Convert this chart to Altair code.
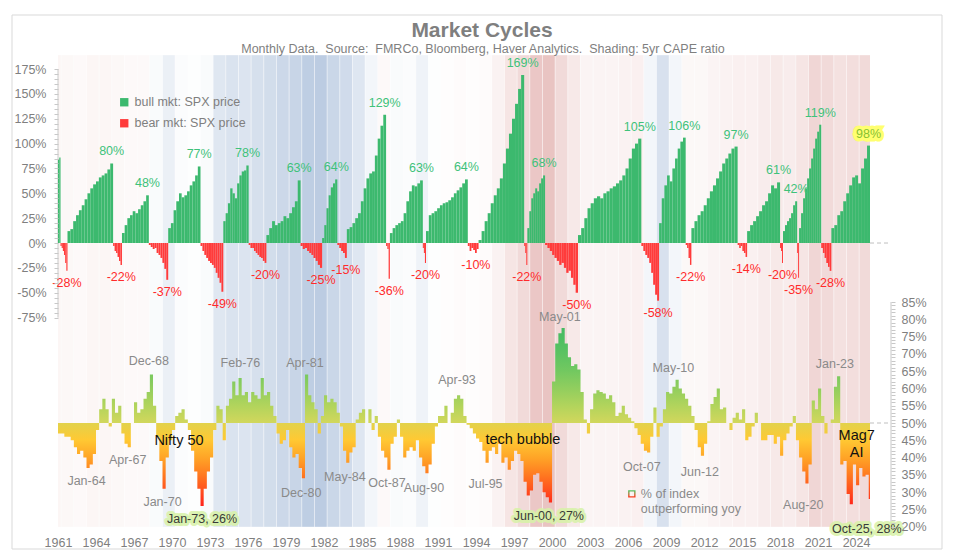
import altair as alt
import pandas as pd

# ------------------------------------------------------------------ data
FONT = "Liberation Sans"
GREY = "#7f7f7f"
ANN_GREY = "#8a8a8a"
BULL = "#3cb96e"
BEAR = "#ff3b3b"
BULL_TXT = "#3ec27a"
BEAR_TXT = "#ff2b2b"
BULL_NAME = "bull mkt: SPX price"
BEAR_NAME = "bear mkt: SPX price"

W, H = 812, 472
X_DOMAIN = [1961.75, 2025.85]
TOP_DOMAIN = [-285.6, 189.1]
BOT_DOMAIN = [19.92, 156.45]

x_tick_years = [1961.75 + 3 * i for i in range(22)]

# 5yr CAPE shading, one value per calendar year (negative = cheap/blue, positive = rich/red)
cape_years = list(range(1961, 2026))
cape_shade = [0.25, 0.2, 0.15, 0.25, 0.25, 0.2, 0.15, 0.15, -0.15, -0.5,
              -0.1, -0.05, -0.15, -0.8, -0.95, -0.9, -1.05, -1.15, -1.3, -1.4,
              -1.65, -1.7, -1.35, -1.2, -0.85, -0.3, 0.15, -0.15, -0.1, -0.4,
              -0.05, 0.05, 0.1, 0.05, 0.1, 0.35, 0.7, 1.0, 1.5, 1.6,
              1.0, 0.6, 0.3, 0.3, 0.3, 0.35, 0.4, -0.3, -1.0, -0.3,
              0.2, 0.2, 0.3, 0.35, 0.4, 0.4, 0.5, 0.6, 0.5, 0.7,
              1.1, 1.0, 0.8, 0.9, 1.0]

# bull / bear phases: boundaries (decimal years) and cumulative SPX price change within each phase
phase_edges = [1961.75, 1961.95, 1962.5, 1966.1, 1966.8, 1968.92, 1970.45, 1973.0, 1974.8,
               1976.8, 1978.2, 1980.9, 1982.6, 1983.8, 1984.55, 1987.65, 1987.95, 1990.55,
               1990.8, 1994.1, 1994.95, 1998.55, 1998.8, 2000.2, 2002.8, 2007.8, 2009.2,
               2011.3, 2011.75, 2015.4, 2016.15, 2018.75, 2018.98, 2020.1, 2020.25, 2022.0,
               2022.8, 2025.85]
phase_values = [
    [84, 86],
    [-3, -5, -8, -12, -20, -28],
    [12, 14, 22, 28, 33, 38, 44, 50, 55, 59, 62, 66, 68, 70, 74, 80],
    [-3, -8, -10, -14, -18, -22],
    [10, 18, 25, 28, 32, 30, 34, 38, 42, 48],
    [-2, -4, -6, -5, -10, -12, -15, -20, -26, -37],
    [15, 20, 33, 42, 50, 46, 48, 52, 58, 62, 68, 77],
    [-3, -8, -12, -15, -18, -20, -22, -25, -30, -35, -40, -49],
    [22, 30, 40, 55, 50, 45, 60, 68, 72, 73, 78],
    [-2, -5, -5, -8, -10, -12, -14, -15, -18, -20],
    [8, 15, 22, 18, 20, 22, 27, 25, 30, 36, 42, 63],
    [-3, -6, -5, -8, -10, -12, -15, -18, -22, -25],
    [5, 18, 35, 48, 56, 60, 64],
    [-2, -5, -8, -10, -15],
    [14, 16, 20, 25, 30, 42, 55, 65, 70, 72, 88, 105, 118, 129],
    [-3, -6, -36],
    [10, 15, 18, 20, 22, 30, 42, 52, 58, 57, 60, 63],
    [-5, -10, -20],
    [12, 28, 30, 32, 35, 38, 40, 41, 43, 46, 50, 53, 56, 60, 64],
    [-3, -8, -5, -7, -10, -6],
    [3, 12, 22, 30, 40, 48, 55, 65, 80, 95, 110, 125, 140, 155, 169],
    [-3, -10, -22],
    [15, 32, 45, 50, 55, 52, 60, 65, 68],
    [-2, -5, -8, -12, -15, -18, -22, -20, -25, -30, -28, -35, -42, -50],
    [8, 15, 25, 35, 40, 45, 47, 45, 50, 52, 55, 57, 60, 63, 68, 75, 85, 95, 100, 105],
    [-3, -8, -12, -15, -20, -30, -42, -52, -58],
    [20, 45, 58, 68, 62, 75, 85, 95, 102, 106],
    [-2, -5, -15, -22],
    [15, 22, 28, 32, 38, 45, 52, 58, 65, 72, 80, 85, 90, 95, 97],
    [-2, -5, -3, -8, -10, -14],
    [12, 18, 22, 27, 32, 38, 42, 50, 58, 55, 61],
    [-5, -8, -20],
    [12, 18, 22, 25, 30, 38, 42],
    [-10, -35],
    [15, 30, 45, 55, 65, 75, 85, 95, 105, 112, 119],
    [-5, -10, -15, -20, -24, -28],
    [15, 18, 28, 32, 42, 50, 58, 66, 68, 60, 75, 85, 98],
]

# % of index outperforming yoy, quarterly from 1961 Q4
outperf_start = 1961.75
outperf = [
    47, 47, 46, 46, 45, 43, 41, 42, 40, 37,
    38, 41, 48, 54, 57, 54, 49, 57, 53, 55,
    47, 44, 43, 50, 56, 53, 54, 57, 59, 64,
    55, 46, 39, 31, 40, 45, 48, 52, 53, 54,
    51, 48, 42, 36, 31, 26, 31, 36, 40, 48,
    55, 54, 45, 55, 57, 62, 58, 63, 58, 59,
    56, 59, 58, 57, 63, 58, 59, 55, 52, 47,
    44, 45, 48, 43, 40, 41, 37, 34, 64, 58,
    56, 54, 47, 52, 58, 56, 57, 56, 53, 49,
    42, 38.5, 41.5, 43, 51, 53, 54, 50, 54, 48,
    52, 46, 42, 40, 36.5, 44, 46, 51, 46, 40,
    42, 43, 42, 45, 40, 37.5, 35.5, 38, 44, 49,
    52, 52, 55, 50, 53, 57, 58, 57, 52, 49.5,
    48.5, 47, 45.5, 44.5, 42, 38.5, 42, 43, 41, 44,
    38.5, 40, 36.5, 39, 42, 41, 39, 33, 29, 30.5,
    35, 35.5, 33, 30, 28.5, 27, 62, 73, 76, 77.5,
    73, 69, 66.5, 67, 65.5, 59, 51, 47, 54, 58.5,
    59.5, 59, 58.5, 57, 58, 56, 52, 53, 55, 52.5,
    51.5, 50.5, 48.5, 46.5, 44, 42, 41.5, 46, 54.5, 46,
    49, 54, 59, 58.5, 60.5, 62.5, 60, 58.5, 57, 55,
    52, 48, 43, 40.5, 44, 50.5, 55.5, 57.5, 60, 54,
    54.5, 50, 48, 51.5, 53, 51, 54, 45, 46, 49,
    53, 50, 45, 45, 46.5, 46.5, 44, 46, 40.5, 45,
    47, 49, 52, 45, 40, 36, 32.5, 38, 56.5, 54,
    60, 52, 47, 50, 51, 60.5, 63.5, 38, 39, 29.5,
    26.5, 38, 32, 37, 34.5, 35, 28,
]

# annotations of the lower panel: label, date, level, side (1 = below, -1 = above)
ann_text = ["Jan-64", "Apr-67", "Dec-68", "Jan-70", "Feb-76", "Dec-80", "Apr-81", "May-84",
            "Oct-87", "Aug-90", "Apr-93", "Jul-95", "May-01", "Oct-07", "May-10", "Jun-12",
            "Aug-20", "Jan-23"]
ann_t = [1964.0, 1967.25, 1968.92, 1970.0, 1976.15, 1980.95, 1981.25, 1984.4,
         1987.72, 1990.64, 1993.25, 1995.5, 2001.37, 2007.84, 2010.33, 2012.42,
         2020.58, 2023.08]
ann_v = [37, 43, 64.4, 31, 64, 33.5, 64, 38, 36.5, 35, 59, 36, 77.3, 41, 62.5, 39.5, 30, 63.5]
ann_side = [1, 1, -1, 1, -1, 1, -1, 1, 1, 1, -1, 1, -1, 1, -1, 1, 1, -1]

low_text = ["Jan-73, 26%", "Jun-00, 27%", "Oct-25, 28%"]
low_t = [1973.12, 2000.5, 2025.6]
low_v = [26, 27, 23]

theme_text = ["Nifty 50", "tech bubble", "Mag7", "AI"]
theme_t = [1971.3, 1998.45, 2024.8, 2024.8]
theme_v = [44.8, 45.1, 46.2, 41.3]

legend2_text = ["% of index", "outperforming yoy"]
legend2_t = [2007.76, 2007.76]
legend2_v = [29.5, 25.1]

# ------------------------------------------------------------------ tables
shade_df = pd.DataFrame({"y0": cape_years, "y1": [y + 1 for y in cape_years], "s": cape_shade})

bar_rows, lab_rows = [], []
for i, vals in enumerate(phase_values):
    a, b = phase_edges[i], phase_edges[i + 1]
    step = (b - a) / len(vals)
    bull = (i % 2 == 0)
    kind = BULL_NAME if bull else BEAR_NAME
    for j, v in enumerate(vals):
        bar_rows.append(dict(t0=a + j * step, t1=a + (j + 1) * step, v=v, zero=0, kind=kind))
    if i > 0:
        j = vals.index(max(vals)) if bull else vals.index(min(vals))
        lab_rows.append(dict(t=a + (j + 0.5) * step, v=vals[j], text=f"{vals[j]}%",
                             bull=bull, last=(i == len(phase_values) - 1)))
bars_df = pd.DataFrame(bar_rows)
labs_df = pd.DataFrame(lab_rows)

bot_t = [outperf_start + 0.25 * k for k in range(len(outperf))]
below_rows = [dict(t=t, lo=min(v, 50), hi=50) for t, v in zip(bot_t, outperf)]
below_rows.append(dict(t=bot_t[-1] + 0.25, lo=min(outperf[-1], 50), hi=50))
above_rows = [dict(t=t, lo=50, hi=max(v, 50)) for t, v in zip(bot_t, outperf)]
above_rows.append(dict(t=bot_t[-1] + 0.25, lo=50, hi=max(outperf[-1], 50)))
below_df = pd.DataFrame(below_rows)
above_df = pd.DataFrame(above_rows)

ann_df = pd.DataFrame({"text": ann_text, "t": ann_t, "v": ann_v, "side": ann_side})
low_df = pd.DataFrame({"text": low_text, "t": low_t, "v": low_v})
theme_df = pd.DataFrame({"text": theme_text, "t": theme_t, "v": theme_v})
leg2_df = pd.DataFrame({"text": legend2_text, "t": legend2_t, "v": legend2_v})
one = pd.DataFrame({"a": [0]})

# ------------------------------------------------------------------ scales / axes
xs = alt.Scale(domain=X_DOMAIN, nice=False, zero=False)
top_s = alt.Scale(domain=TOP_DOMAIN, nice=False, zero=False)
bot_s = alt.Scale(domain=BOT_DOMAIN, nice=False, zero=False)

# one identical x-axis definition for every layer (shared axis must not conflict)
x_axis = alt.Axis(orient="bottom", values=x_tick_years, labelExpr="'' + floor(datum.value)",
                  title=None, grid=False, ticks=False, domain=False,
                  labelFlush=False, labelOverlap=False, labelFontSize=12.5, labelColor=GREY,
                  labelFont=FONT, labelPadding=9, zindex=2)
top_axis = alt.Axis(orient="left", values=list(range(-75, 180, 5)),
                    labelExpr="datum.value % 25 == 0 ? datum.value + '%' : ''",
                    title=None, grid=False, domain=False, tickColor="#c8c8c8", tickSize=4,
                    labelColor=GREY, labelFontSize=12.5, labelFont=FONT, labelPadding=8,
                    labelOverlap=False, labelBound=False, zindex=2)
bot_axis = alt.Axis(orient="right", offset=21, values=list(range(20, 86, 1)),
                    labelExpr="datum.value % 5 == 0 ? datum.value + '%' : ''",
                    title=None, grid=False, domain=False, tickColor="#c8c8c8", tickSize=4,
                    labelColor=GREY, labelFontSize=12.5, labelFont=FONT, labelPadding=6,
                    labelOverlap=False, labelBound=False, zindex=2)


def X(field):
    return alt.X(field, type="quantitative", scale=xs, axis=x_axis)


def YT(field, axis=None):
    return alt.Y(field, type="quantitative", scale=top_s, axis=axis)


def YB(field, axis=None):
    return alt.Y(field, type="quantitative", scale=bot_s, axis=axis)


# ------------------------------------------------------------------ background
shade = alt.Chart(shade_df).mark_rect(clip=True, stroke="white", strokeWidth=0.5, strokeOpacity=0.7).encode(
    x=X("y0"), x2="y1:Q",
    y=alt.value(0), y2=alt.value(H),
    color=alt.Color("s:Q", scale=alt.Scale(domain=[-1.7, 0, 1.7], interpolate="rgb",
                                           range=["#bccce2", "#ffffff", "#e8c0be"]), legend=None),
)

frame = alt.Chart(one).mark_rect(fillOpacity=0, stroke="#d9d9d9", strokeWidth=1).encode(
    x=alt.value(-46), x2=alt.value(884), y=alt.value(-40), y2=alt.value(494))

title = alt.Chart(one).mark_text(text="Market Cycles", font=FONT, fontSize=21, fontWeight="bold",
                                 color=GREY, align="center", baseline="middle").encode(
    x=alt.value(424), y=alt.value(-24))
subtitle = alt.Chart(one).mark_text(
    text="Monthly Data.\u00a0 Source:\u00a0 FMRCo, Bloomberg, Haver Analytics.\u00a0 Shading: 5yr CAPE ratio",
    font=FONT, fontSize=12.5, color=GREY, align="center", baseline="middle").encode(
    x=alt.value(425), y=alt.value(-6))

# ------------------------------------------------------------------ top panel
top_bars = alt.Chart(bars_df).mark_rect().encode(
    x=X("t0"), x2="t1:Q",
    y=YT("v", top_axis), y2="zero:Q",
    color=alt.Color("kind:N", scale=alt.Scale(domain=[BULL_NAME, BEAR_NAME], range=[BULL, BEAR]),
                    legend=alt.Legend(orient="none", legendX=60, legendY=41, title=None,
                                      symbolType="square", symbolSize=70, symbolStrokeWidth=0,
                                      labelFontSize=12.5, labelColor=GREY, labelFont=FONT,
                                      labelOffset=4, rowPadding=8, padding=0)),
)
top_axis_line = alt.Chart(pd.DataFrame({"a": [-75], "b": [175]})).mark_rule(color="#c8c8c8").encode(
    y=YT("a"), y2="b:Q", x=alt.value(0))
top_zero = alt.Chart(pd.DataFrame({"z": [0]})).mark_rule(color="#bfbfbf", strokeDash=[4, 3]).encode(
    y=YT("z"), x=alt.value(W), x2=alt.value(W + 21))

bull_labels = alt.Chart(labs_df).transform_filter("datum.bull && !datum.last").mark_text(
    font=FONT, fontSize=12.5, color=BULL_TXT, dy=-12, baseline="middle").encode(
    x=X("t"), y=YT("v"), text="text:N")
bear_labels = alt.Chart(labs_df).transform_filter("!datum.bull").mark_text(
    font=FONT, fontSize=12.5, color=BEAR_TXT, dy=12, baseline="middle").encode(
    x=X("t"), y=YT("v"), text="text:N")
last_hi = alt.Chart(labs_df).transform_filter("datum.last").mark_text(
    font=FONT, fontSize=12.5, color="#ffff70", stroke="#ffff70", strokeWidth=7, strokeJoin="miter",
    dy=-12, baseline="middle").encode(x=X("t"), y=YT("v"), text="text:N")
last_lab = alt.Chart(labs_df).transform_filter("datum.last").mark_text(
    font=FONT, fontSize=12.5, color="#86c232", dy=-12, baseline="middle").encode(
    x=X("t"), y=YT("v"), text="text:N")

# ------------------------------------------------------------------ bottom panel
below_grad = alt.Gradient(gradient="linear", x1=0, x2=0, y1=0, y2=1, stops=[
    alt.GradientStop(color="#e2d24c", offset=0),
    alt.GradientStop(color="#ffc933", offset=0.2),
    alt.GradientStop(color="#ffa226", offset=0.43),
    alt.GradientStop(color="#ff7620", offset=0.64),
    alt.GradientStop(color="#ff4a1e", offset=0.84),
    alt.GradientStop(color="#ff221a", offset=1),
])
above_grad = alt.Gradient(gradient="linear", x1=0, x2=0, y1=1, y2=0, stops=[
    alt.GradientStop(color="#d2d75c", offset=0),
    alt.GradientStop(color="#b2d45c", offset=0.18),
    alt.GradientStop(color="#92ce5e", offset=0.36),
    alt.GradientStop(color="#72c860", offset=0.55),
    alt.GradientStop(color="#5ac262", offset=0.75),
    alt.GradientStop(color="#44bb62", offset=1),
])

below_area = alt.Chart(below_df).mark_area(interpolate="step-after", clip=True, color=below_grad).encode(
    x=X("t"), y=YB("lo", bot_axis), y2="hi:Q")
above_area = alt.Chart(above_df).mark_area(interpolate="step-after", clip=True, color=above_grad).encode(
    x=X("t"), y=YB("hi"), y2="lo:Q")
bot_axis_line = alt.Chart(pd.DataFrame({"a": [20], "b": [85]})).mark_rule(color="#c8c8c8").encode(
    y=YB("a"), y2="b:Q", x=alt.value(W + 21))
bot_mid = alt.Chart(pd.DataFrame({"z": [50]})).mark_rule(color="#bfbfbf", strokeDash=[4, 3]).encode(
    y=YB("z"), x=alt.value(W), x2=alt.value(W + 21))

ann_below = alt.Chart(ann_df).transform_filter("datum.side > 0").mark_text(
    font=FONT, fontSize=12.5, color=ANN_GREY, dy=13, baseline="middle").encode(
    x=X("t"), y=YB("v"), text="text:N")
ann_above = alt.Chart(ann_df).transform_filter("datum.side < 0").mark_text(
    font=FONT, fontSize=12.5, color=ANN_GREY, dy=-12, baseline="middle").encode(
    x=X("t"), y=YB("v"), text="text:N")
low_glow = alt.Chart(low_df).mark_text(
    font=FONT, fontSize=12.5, color="#d8f2a8", stroke="#d8f2a8", strokeWidth=6, strokeOpacity=0.85,
    strokeJoin="round", dy=13, baseline="middle").encode(x=X("t"), y=YB("v"), text="text:N")
low_lab = alt.Chart(low_df).mark_text(
    font=FONT, fontSize=12.5, color="#3a3a3a", dy=13, baseline="middle").encode(
    x=X("t"), y=YB("v"), text="text:N")
theme_lab = alt.Chart(theme_df).mark_text(
    font=FONT, fontSize=14.5, color="#111111", baseline="middle").encode(
    x=X("t"), y=YB("v"), text="text:N")
leg2_icon = alt.Chart(leg2_df.head(1)).mark_point(
    shape="square", filled=False, size=36, strokeWidth=1.4, opacity=1,
    stroke=alt.Gradient(gradient="linear", x1=0, x2=0, y1=0, y2=1, stops=[
        alt.GradientStop(color="#55c060", offset=0), alt.GradientStop(color="#ff3a1e", offset=1)])
).encode(x=X("t"), y=YB("v"), xOffset=alt.value(-9))
leg2_text = alt.Chart(leg2_df).mark_text(
    font=FONT, fontSize=12.5, color=ANN_GREY, align="left", baseline="middle").encode(
    x=X("t"), y=YB("v"), text="text:N")

layers = [shade, frame, title, subtitle,
          top_axis_line, top_zero, top_bars, bull_labels, bear_labels, last_hi, last_lab,
          below_area, above_area, bot_axis_line, bot_mid, ann_below, ann_above,
          low_glow, low_lab, theme_lab, leg2_icon, leg2_text]

chart = alt.layer(*layers).resolve_scale(
    y="independent", color="independent"
).properties(
    width=W, height=H,
    autosize=alt.AutoSizeParams(type="none"),
    padding={"left": 50, "top": 47, "right": 75, "bottom": 24},
    background="white",
).configure_view(strokeWidth=0)

chart.save("out.html", embed_options={"renderer": "svg", "actions": False})
